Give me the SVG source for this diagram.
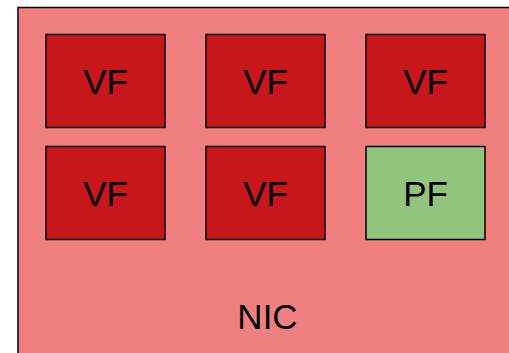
<svg xmlns="http://www.w3.org/2000/svg" width="509" height="353" viewBox="0 0 509 353">
  <style>
    .box { stroke: #000000; stroke-width: 1.5; }
    .vf { fill: #C8161D; }
    .pf { fill: #93C47D; }
    .nic { fill: #F08080; stroke: #000000; stroke-width: 1.5; }
    .lbl { font-family: "Liberation Sans", Arial, sans-serif; font-size: 35px; fill: #000000; text-anchor: middle; dominant-baseline: central; }
  </style>
  <g id="nic">
    <rect class="nic" x="18" y="7.5" width="500" height="360"/>
    <text class="lbl" x="267.5" y="316">NIC</text>
  </g>
  <g id="vf1">
    <rect class="box vf" x="46" y="34.5" width="119" height="93"/>
    <text class="lbl" x="105.5" y="81">VF</text>
  </g>
  <g id="vf2">
    <rect class="box vf" x="206" y="34.5" width="119" height="93"/>
    <text class="lbl" x="265.5" y="81">VF</text>
  </g>
  <g id="vf3">
    <rect class="box vf" x="366" y="34.5" width="119" height="93"/>
    <text class="lbl" x="425.5" y="81">VF</text>
  </g>
  <g id="vf4">
    <rect class="box vf" x="46" y="146.5" width="119" height="93"/>
    <text class="lbl" x="105.5" y="193">VF</text>
  </g>
  <g id="vf5">
    <rect class="box vf" x="206" y="146.5" width="119" height="93"/>
    <text class="lbl" x="265.5" y="193">VF</text>
  </g>
  <g id="pf">
    <rect class="box pf" x="366" y="146.5" width="119" height="93"/>
    <text class="lbl" x="425.5" y="193">PF</text>
  </g>
  <g id="connectors"/>
</svg>
